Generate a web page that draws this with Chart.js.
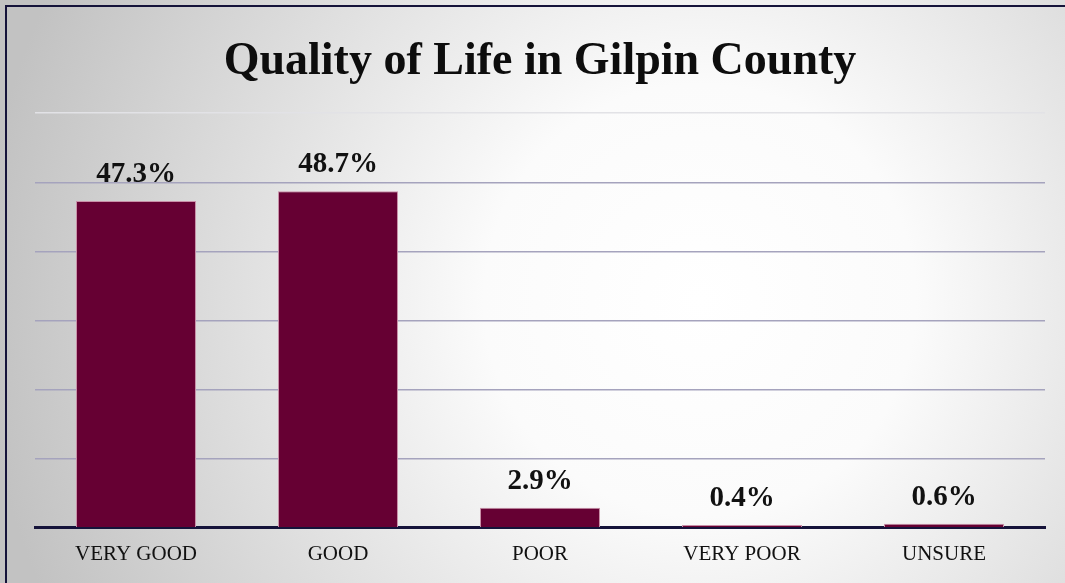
<!DOCTYPE html>
<html>
<head>
<meta charset="utf-8">
<script src="https://cdn.jsdelivr.net/npm/chart.js@4.4.0/dist/chart.umd.min.js"></script>
<style>
  html, body { margin: 0; padding: 0; background: #fff; }
  #wrap { position: relative; width: 1065px; height: 583px; }
</style>
</head>
<body>
<div id="wrap"><canvas id="chart"></canvas></div>
<script>
const categories = ["VERY GOOD", "GOOD", "POOR", "VERY POOR", "UNSURE"];
const percentages = [47.3, 48.7, 2.9, 0.4, 0.6];
const yMax = 60;
const yStep = 10;

const serif = "'Liberation Serif', 'Times New Roman', serif";

// soft radial backdrop plus the dark frame on the top/left edges
const backdrop = {
  id: "backdrop",
  beforeDraw(chart) {
    const { ctx, width, height } = chart;
    ctx.save();
    const g = ctx.createRadialGradient(700, 300, 0, 700, 300, 720);
    g.addColorStop(0, "#ffffff");
    g.addColorStop(0.3, "#fbfbfb");
    g.addColorStop(1, "#c2c2c2");
    ctx.fillStyle = g;
    ctx.fillRect(0, 0, width, height);
    ctx.strokeStyle = "#15133a";
    ctx.lineWidth = 2;
    ctx.strokeRect(6, 6, width + 20, height + 20);
    ctx.restore();
  },
};

// value labels above each bar
const valueLabels = {
  id: "valueLabels",
  afterDatasetsDraw(chart) {
    const { ctx } = chart;
    const meta = chart.getDatasetMeta(0);
    ctx.save();
    ctx.font = `bold 29px ${serif}`;
    ctx.fillStyle = "#111111";
    ctx.textAlign = "center";
    ctx.textBaseline = "alphabetic";
    meta.data.forEach((bar, i) => {
      ctx.fillText(`${percentages[i].toFixed(1)}%`, bar.x, bar.y - 19);
    });
    ctx.restore();
  },
};

new Chart(document.getElementById("chart"), {
  type: "bar",
  data: {
    labels: categories,
    datasets: [
      {
        data: percentages,
        backgroundColor: "#660033",
        borderColor: "#c890a8",
        borderWidth: 1,
        categoryPercentage: 1,
        barPercentage: 0.594,
      },
    ],
  },
  options: {
    responsive: true,
    maintainAspectRatio: false,
    animation: false,
    layout: {
      padding: { top: 22, left: 35, right: 20, bottom: 2 },
    },
    plugins: {
      legend: { display: false },
      tooltip: { enabled: false },
      title: {
        display: true,
        text: "Quality of Life in Gilpin County",
        color: "#0d0d0d",
        font: { family: serif, size: 46, weight: "bold", lineHeight: 1.2 },
        padding: { top: 13, bottom: 23 },
      },
    },
    scales: {
      x: {
        grid: { display: false, drawTicks: false },
        border: { display: true, color: "#15133a", width: 3 },
        ticks: {
          color: "#111111",
          font: { family: serif, size: 21 },
          padding: 14,
          maxRotation: 0,
        },
      },
      y: {
        min: 0,
        max: yMax,
        ticks: { display: false, stepSize: yStep },
        border: { display: false },
        grid: {
          drawTicks: false,
          lineWidth: 1.5,
          color: (c) => (c.tick && c.tick.value === yMax ? "#e2e2e6" : "#a5a3bd"),
        },
      },
    },
  },
  plugins: [backdrop, valueLabels],
});
</script>
</body>
</html>
